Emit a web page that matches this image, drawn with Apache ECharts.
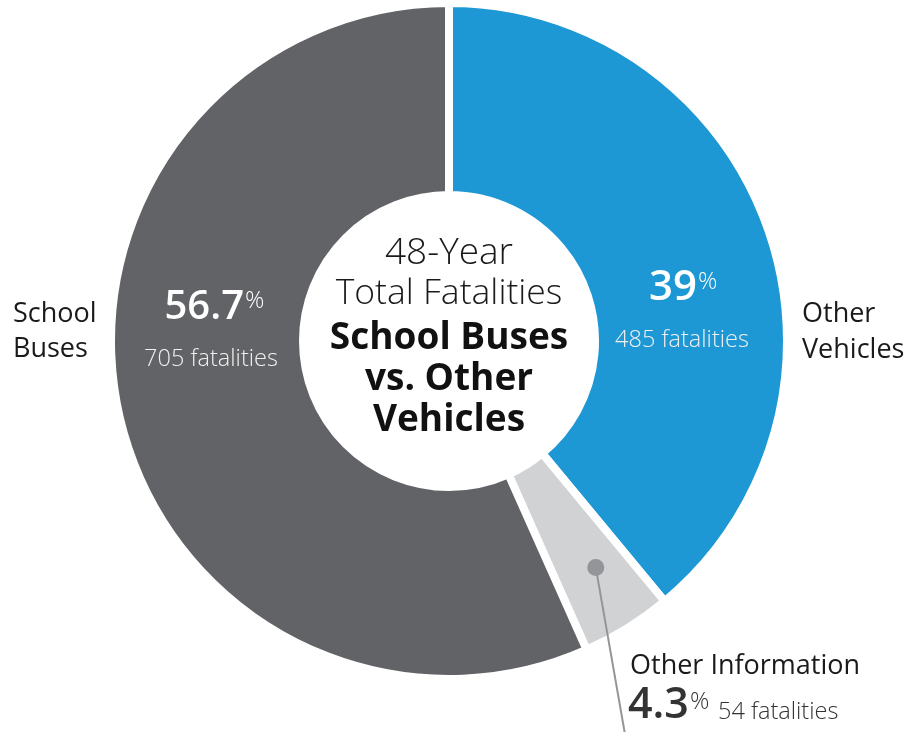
<!DOCTYPE html>
<html><head><meta charset="utf-8">
<script src="https://cdn.jsdelivr.net/npm/echarts@6/dist/echarts.min.js"></script>
<style>html,body{margin:0;padding:0;background:#fff}#c{width:909px;height:732px}</style>
</head><body><div id="c"></div>
<script>
// ---- data ----
const categories = ['Other Vehicles', 'Other Information', 'School Buses'];
const fatalities = [485, 54, 705];
const percentLabels = ['39', '4.3', '56.7'];
const outerLabels = [['Other', 'Vehicles'], ['Other Information'], ['School', 'Buses']];
const centerLight = ['48-Year', 'Total Fatalities'];
const centerBold = ['School Buses', 'vs. Other', 'Vehicles'];
const colors = ['#1e98d5', '#d1d2d4', '#626366'];

const FF = '"Open Sans", "Noto Sans", sans-serif';
const cx = 449, cy = 341;
const chart = echarts.init(document.getElementById('c'), null, {renderer: 'canvas'});

const total = fatalities.reduce((a, b) => a + b, 0);
// mid angle of the small slice (clockwise from top)
const startShare = fatalities[0] / total;
const midShare = startShare + fatalities[1] / total / 2;
const ang = midShare * 2 * Math.PI - 1.1 * Math.PI / 180;
const dotR = 270;
const dotX = cx + dotR * Math.sin(ang), dotY = cy - dotR * Math.cos(ang);

function txt(text, x, y, size, weight, fill, align, vAlign) {
  return {type: 'text', silent: true, z: 10,
    style: {text: text, x: x, y: y, fill: fill, align: align || 'center', verticalAlign: vAlign || 'middle',
      font: (weight || 'normal') + ' ' + size + 'px ' + FF}};
}

const g = [];
// center text
g.push(txt(centerLight[0], cx, 253, 37, 300, '#1a1a1a'));
g.push(txt(centerLight[1], cx, 294, 35.5, 300, '#1a1a1a'));
g.push(txt(centerBold[0], cx, 338, 37, 'bold', '#111'));
g.push(txt(centerBold[1], cx, 379, 37, 'bold', '#111'));
g.push(txt(centerBold[2], cx, 420, 37, 'bold', '#111'));
// School buses slice labels
g.push(txt(percentLabels[2], 244, 308, 40, 600, '#fff', 'right'));
g.push(txt('%', 245, 301, 24, 300, '#fff', 'left'));
g.push(txt(fatalities[2] + ' fatalities', 211, 359, 23.5, 300, '#f0f0f0'));
// Other vehicles slice labels
g.push(txt(percentLabels[0], 697, 288, 42, 600, '#fff', 'right'));
g.push(txt('%', 698, 282, 24, 300, '#fff', 'left'));
g.push(txt(fatalities[0] + ' fatalities', 682, 340, 23.5, 300, '#f0f0f0'));
// outer labels
g.push(txt(outerLabels[2][0], 13, 314, 27, 'normal', '#1a1a1a', 'left'));
g.push(txt(outerLabels[2][1], 13, 349, 27, 'normal', '#1a1a1a', 'left'));
g.push(txt(outerLabels[0][0], 802, 314, 27, 'normal', '#1a1a1a', 'left'));
g.push(txt(outerLabels[0][1], 802, 350, 27, 'normal', '#1a1a1a', 'left'));
g.push(txt(outerLabels[1][0], 630, 666, 27, 'normal', '#1a1a1a', 'left'));
g.push(txt(percentLabels[1], 628, 706, 43, 600, '#333', 'left'));
g.push(txt('%', 690, 702, 24, 300, '#333', 'left'));
g.push(txt(fatalities[1] + ' fatalities', 718, 712, 23.5, 300, '#333', 'left'));
// leader line and dot
g.push({type: 'line', silent: true, z: 9, shape: {x1: dotX, y1: dotY, x2: 626, y2: 740},
  style: {stroke: '#939598', lineWidth: 2}});
g.push({type: 'circle', silent: true, z: 10, shape: {cx: dotX, cy: dotY, r: 8.5},
  style: {fill: '#939598'}});

chart.setOption({
  animation: false,
  backgroundColor: '#fff',
  series: [{
    type: 'pie',
    center: [cx, cy],
    radius: [146, 338],
    startAngle: 90,
    clockwise: true,
    silent: true,
    label: {show: false},
    labelLine: {show: false},
    emphasis: {disabled: true},
    itemStyle: {borderColor: '#fff', borderWidth: 8},
    data: categories.map((n, i) => ({name: n, value: fatalities[i], itemStyle: {color: colors[i]}}))
  }],
  graphic: g
});
</script></body></html>
